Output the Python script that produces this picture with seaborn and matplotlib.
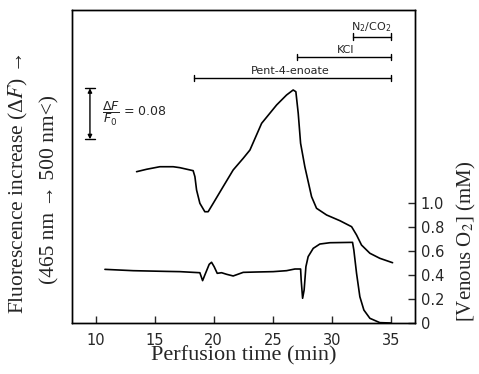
import matplotlib
matplotlib.use("Agg")
import matplotlib.pyplot as plt
import numpy as np
import pandas as pd
import seaborn as sns

#%% Data
# Fluorescence (dF/F0, relative to start of recording)
fluo_time = [13.47, 14.32, 15.44, 16.57, 17.14, 18.26, 18.41, 18.55, 18.83, 19.25,
             19.53, 19.96, 20.80, 21.65, 22.50, 23.07, 24.06, 25.33, 26.17, 26.73,
             26.96, 27.16, 27.36, 27.72, 28.29, 28.71, 29.56, 30.69, 31.68, 32.10,
             32.52, 33.23, 34.07, 35.15]
fluo_value = [0.0, 0.0038, 0.0078, 0.0078, 0.0063, 0.0016, -0.0078, -0.0287, -0.0496, -0.0628,
              -0.0628, -0.0496, -0.0235, 0.0027, 0.0210, 0.0340, 0.0759, 0.1047, 0.1203, 0.1282,
              0.1255, 0.0916, 0.0446, 0.0078, -0.0392, -0.0574, -0.0679, -0.0769, -0.0863, -0.0993,
              -0.1151, -0.1280, -0.1359, -0.1428]

# Venous O2 (mM)
o2_time = [10.79, 13.18, 16.01, 17.14, 18.83, 19.06, 19.25, 19.62, 19.82, 20.04,
           20.30, 20.67, 21.09, 21.65, 22.50, 23.63, 25.04, 26.17, 26.88, 27.36,
           27.41, 27.53, 27.66, 27.81, 28.00, 28.43, 28.99, 29.84, 31.76, 31.87,
           32.10, 32.38, 32.72, 33.23, 34.07, 35.00]
o2_value = [0.447, 0.436, 0.430, 0.428, 0.419, 0.353, 0.400, 0.489, 0.506, 0.469,
            0.414, 0.419, 0.406, 0.392, 0.422, 0.425, 0.428, 0.436, 0.450, 0.450,
            0.358, 0.206, 0.275, 0.469, 0.553, 0.622, 0.658, 0.669, 0.672, 0.608,
            0.414, 0.219, 0.108, 0.039, 0.003, 0.0]

# Perfusion periods (start, end in min)
period_labels = ['Pent-4-enoate', 'KCl', 'N$_2$/CO$_2$']
period_start = [18.35, 27.02, 31.81]
period_end = [35.0, 35.0, 35.0]

x_ticks = [10, 15, 20, 25, 30, 35]
o2_ticks = [0, 0.2, 0.4, 0.6, 0.8, 1.0]
o2_tick_labels = ['0', '0.2', '0.4', '0.6', '0.8', '1.0']
scale_bar = 0.08

fluo = pd.DataFrame({'time': fluo_time, 'value': fluo_value})
o2 = pd.DataFrame({'time': o2_time, 'value': o2_value})

#%% Figure
sns.set_style("ticks")
plt.rcParams['font.family'] = ['DejaVu Sans']

fig = plt.figure(figsize=(4.79, 3.74), dpi=100)
ax = fig.add_axes([72/479, 1 - 323/374, 343/479, 313/374])
ax2 = ax.twinx()

sns.lineplot(data=fluo, x='time', y='value', ax=ax, color='black', lw=1.2, estimator=None)
sns.lineplot(data=o2, x='time', y='value', ax=ax2, color='black', lw=1.2, estimator=None)

ax.set_xlim(8.0, 37.05)
ax.set_ylim(-0.2374, 0.2537)
ax2.set_ylim(0, 313/120)

# left axis: no ticks
ax.set_yticks([])
ax.set_ylabel('')
ax.set_xlabel('')
ax2.set_ylabel('')

ax.set_xticks(x_ticks)
ax.tick_params(axis='x', direction='in', length=5, width=1, pad=7, labelsize=10.5)
ax2.set_yticks(o2_ticks)
ax2.set_yticklabels(o2_tick_labels)
ax2.tick_params(axis='y', direction='in', length=5, width=1, pad=4, labelsize=10.5)

for a in (ax, ax2):
    for s in a.spines.values():
        s.set_visible(True)
        s.set_linewidth(1.0)
        s.set_color('black')

# Perfusion bars
trans = ax.get_xaxis_transform()
bar_y = [0.782, 0.849, 0.915]
label_shift = [-0.2, 0.2, -0.1]
for lab, t0, t1, yb, dx in zip(period_labels, period_start, period_end, bar_y, label_shift):
    ax.plot([t0, t1], [yb, yb], color='black', lw=1.0, transform=trans)
    for tt in (t0, t1):
        ax.plot([tt, tt], [yb - 0.01, yb + 0.01], color='black', lw=1.0, transform=trans)
    ax.text((t0 + t1) / 2 + dx, yb + 0.008, lab,
            transform=trans, ha='center', va='bottom', fontsize=8)

# Scale bar for dF/F0
t_bar = 9.52
bar_top = 0.1309
ax.annotate('', xy=(t_bar, bar_top), xytext=(t_bar, bar_top - scale_bar),
            arrowprops=dict(arrowstyle='<|-|>', lw=1.0, color='black',
                            mutation_scale=6, shrinkA=0, shrinkB=0))
ax.plot([t_bar - 0.45, t_bar + 0.45], [bar_top, bar_top], color='black', lw=1.0)
ax.plot([t_bar - 0.45, t_bar + 0.45], [bar_top - scale_bar, bar_top - scale_bar], color='black', lw=1.0)
ax.text(10.5, bar_top - scale_bar / 2, r'$\dfrac{\Delta F}{F_0}$ = 0.08', ha='left', va='center',
        fontsize=9, math_fontfamily='dejavusans')

# Axis labels (serif)
serif = 'Liberation Serif'
fig.text(0.5 * (72 + 415) / 479, 1 - 356/374, 'Perfusion time (min)', ha='center', va='center',
         fontsize=16, family=serif)
fig.text(18/479, 0.508, r'Fluorescence increase (Δ$F$) →', rotation=90, ha='center', va='center',
         fontsize=15.5, family=serif, math_fontfamily='stix')
fig.text(50/479, 0.492, '(465 nm → 500 nm<)', rotation=90, ha='center', va='center',
         fontsize=15.5, family=[serif, 'DejaVu Serif'])
fig.text(478/479, 0.354, r'[Venous O$_2$] (mM)', rotation=90, ha='right', va='center',
         fontsize=15, family=serif, math_fontfamily='stix')

fig.savefig('out.png', dpi=100)
